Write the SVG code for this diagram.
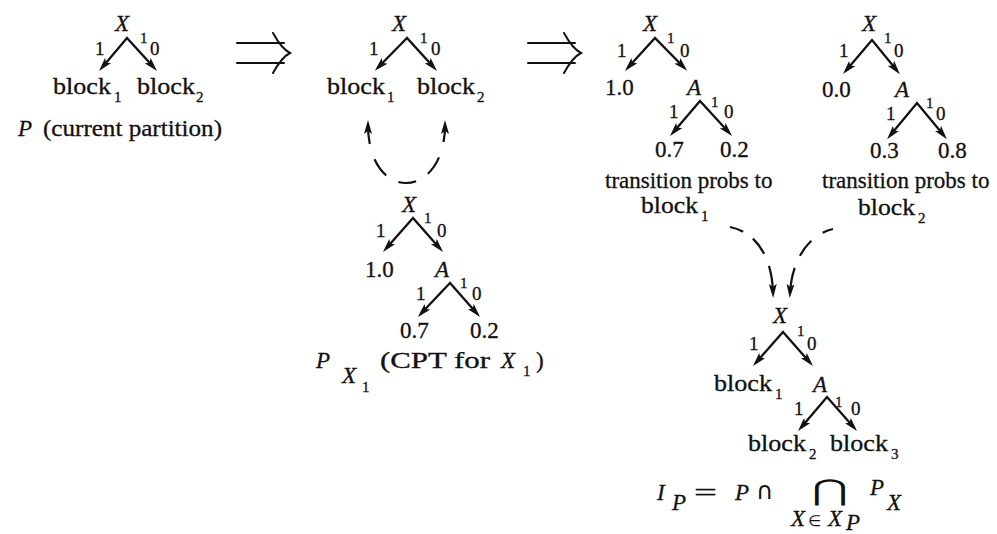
<svg xmlns="http://www.w3.org/2000/svg" width="997" height="534" viewBox="0 0 997 534">
  <style>
    text { font-family: "Liberation Serif", "Times New Roman", serif; fill: #111; stroke: #111; stroke-width: 0.3; }
    .t { font-size: 23px; }
    .it { font-size: 23px; font-style: italic; }
    .lab { font-size: 19px; }
    .sub { font-size: 15px; }
    .sym { font-family: "DejaVu Sans", sans-serif; stroke-width: 0; }
    .edge { fill: none; stroke: #111; stroke-width: 2.3; marker-start: url(#ah); marker-end: url(#ah); }
    .dash { fill: none; stroke: #111; stroke-width: 2.2; }
    .dbl { fill: none; stroke: #111; stroke-width: 2; stroke-linecap: round; }
  </style>
  <defs>
    <marker id="ah" viewBox="0 0 14 8" refX="9" refY="4" markerWidth="14" markerHeight="8" markerUnits="userSpaceOnUse" orient="auto-start-reverse">
      <path d="M0,0 L14,4 L0,8 L3,4 z" fill="#111"/>
    </marker>
  </defs>

  <!-- implication arrows -->
  <g id="implies-1" class="dbl">
    <path d="M237,43 H284 M237,63 H284"/>
    <path d="M273,33 C279,44 284,50 290,53 C284,56 279,62 273,73"/>
  </g>
  <g id="implies-2" class="dbl">
    <path d="M528,43 H575 M528,63 H575"/>
    <path d="M564,33 C570,44 575,50 581,53 C575,56 570,62 564,73"/>
  </g>

  <!-- partition P -->
  <g id="partition-P">
    <text class="it" x="115" y="31">X</text>
    <text class="sub" x="140" y="43">1</text>
    <text class="lab" x="95" y="55">1</text>
    <text class="lab" x="150" y="55">0</text>
    <text class="t" x="53" y="94" textLength="58" lengthAdjust="spacingAndGlyphs">block</text>
    <text class="sub" x="114" y="102">1</text>
    <text class="t" x="137" y="94" textLength="58" lengthAdjust="spacingAndGlyphs">block</text>
    <text class="sub" x="196" y="102">2</text>
    <text class="it" x="18" y="136">P</text>
    <text class="t" x="43" y="136" textLength="179" lengthAdjust="spacingAndGlyphs">(current partition)</text>
  </g>

  <!-- partition P repeated -->
  <g id="partition-P2">
    <text class="it" x="392" y="31">X</text>
    <text class="sub" x="420" y="43">1</text>
    <text class="lab" x="369" y="55">1</text>
    <text class="lab" x="431" y="55">0</text>
    <text class="t" x="327" y="94" textLength="58" lengthAdjust="spacingAndGlyphs">block</text>
    <text class="sub" x="387" y="102">1</text>
    <text class="t" x="417" y="94" textLength="58" lengthAdjust="spacingAndGlyphs">block</text>
    <text class="sub" x="477" y="102">2</text>
  </g>

  <!-- CPT for X1 -->
  <g id="cpt-X1">
    <text class="it" x="402" y="212">X</text>
    <text class="sub" x="424" y="223">1</text>
    <text class="lab" x="376" y="237">1</text>
    <text class="lab" x="437" y="237">0</text>
    <text class="t" x="365" y="277">1.0</text>
    <text class="it" x="435" y="277">A</text>
    <text class="sub" x="460" y="288">1</text>
    <text class="lab" x="416" y="300">1</text>
    <text class="lab" x="472" y="300">0</text>
    <text class="t" x="400" y="338">0.7</text>
    <text class="t" x="470" y="338">0.2</text>
    <text class="it" x="316" y="368">P</text>
    <text class="it" x="342" y="383" font-size="18">X</text>
    <text class="sub" x="362" y="392" font-size="12">1</text>
    <text class="t" x="380" y="368" textLength="110" lengthAdjust="spacingAndGlyphs">(CPT for</text>
    <text class="it" x="501" y="368">X</text>
    <text class="sub" x="523" y="376">1</text>
    <text class="t" x="536" y="368">)</text>
  </g>

  <!-- transition probabilities to block 1 -->
  <g id="trans-block1">
    <text class="it" x="643" y="31">X</text>
    <text class="sub" x="667" y="43">1</text>
    <text class="lab" x="617" y="57">1</text>
    <text class="lab" x="680" y="57">0</text>
    <text class="t" x="605" y="95">1.0</text>
    <text class="it" x="687" y="95">A</text>
    <text class="sub" x="711" y="107">1</text>
    <text class="lab" x="669" y="118">1</text>
    <text class="lab" x="724" y="118">0</text>
    <text class="t" x="655" y="157">0.7</text>
    <text class="t" x="720" y="157">0.2</text>
    <text class="t" x="605" y="188">transition probs to</text>
    <text class="t" x="641" y="213" textLength="57" lengthAdjust="spacingAndGlyphs">block</text>
    <text class="sub" x="701" y="221">1</text>
  </g>

  <!-- transition probabilities to block 2 -->
  <g id="trans-block2">
    <text class="it" x="862" y="31">X</text>
    <text class="sub" x="884" y="43">1</text>
    <text class="lab" x="839" y="57">1</text>
    <text class="lab" x="894" y="57">0</text>
    <text class="t" x="822" y="97">0.0</text>
    <text class="it" x="895" y="97">A</text>
    <text class="sub" x="926" y="108">1</text>
    <text class="lab" x="886" y="120">1</text>
    <text class="lab" x="936" y="120">0</text>
    <text class="t" x="870" y="158">0.3</text>
    <text class="t" x="938" y="158">0.8</text>
    <text class="t" x="822" y="188">transition probs to</text>
    <text class="t" x="858" y="215" textLength="57" lengthAdjust="spacingAndGlyphs">block</text>
    <text class="sub" x="918" y="223">2</text>
  </g>

  <!-- refined partition I_P -->
  <g id="partition-IP">
    <text class="it" x="773" y="323">X</text>
    <text class="sub" x="797" y="336">1</text>
    <text class="lab" x="749" y="350">1</text>
    <text class="lab" x="807" y="350">0</text>
    <text class="t" x="714" y="391" textLength="58" lengthAdjust="spacingAndGlyphs">block</text>
    <text class="sub" x="775" y="399">1</text>
    <text class="it" x="813" y="392">A</text>
    <text class="sub" x="835" y="407">1</text>
    <text class="lab" x="794" y="415">1</text>
    <text class="lab" x="851" y="415">0</text>
    <text class="t" x="748" y="451" textLength="58" lengthAdjust="spacingAndGlyphs">block</text>
    <text class="sub" x="809" y="459">2</text>
    <text class="t" x="830" y="451" textLength="58" lengthAdjust="spacingAndGlyphs">block</text>
    <text class="sub" x="891" y="459">3</text>
  </g>

  <!-- I_P formula -->
  <g id="formula">
    <text class="it" x="657" y="500">I</text>
    <text class="it" x="672" y="510" font-size="16">P</text>
    <text class="t" x="694" y="500" font-size="24" textLength="23" lengthAdjust="spacingAndGlyphs" stroke-width="0">=</text>
    <text class="it" x="735" y="500">P</text>
    <text class="sym" x="756" y="499" font-size="24">∩</text>
    <text class="sym" transform="translate(812,500) scale(1.5,1)" x="0" y="0" font-size="29">⋂</text>
    <text class="it" x="870" y="495">P</text>
    <text class="it" x="887" y="510" font-size="17">X</text>
    <text class="it" x="791" y="526" font-size="18">X</text>
    <text class="sym" x="808" y="526" font-size="15">∈</text>
    <text class="it" x="828" y="526" font-size="18">X</text>
    <text class="it" x="846" y="530" font-size="12">P</text>
  </g>

  <g id="connectors">
    <!-- tree branches -->
    <path class="edge" d="M102.3,67.3 L127,38 L153.7,67.3"/>
    <path class="edge" d="M378.3,67.3 L407,38 L433.7,67.3"/>
    <path class="edge" d="M386.3,248.3 L413,218 L439.7,248.3"/>
    <path class="edge" d="M421.3,313.3 L450,283 L476.7,313.3"/>
    <path class="edge" d="M628.3,67.3 L655,38 L683.7,67.3"/>
    <path class="edge" d="M673.3,132.3 L700,101 L728.7,132.3"/>
    <path class="edge" d="M846.3,70.3 L872,40 L896.7,70.3"/>
    <path class="edge" d="M890.3,135.3 L917,103 L943.7,135.3"/>
    <path class="edge" d="M756.3,362.3 L783,332 L809.7,362.3"/>
    <path class="edge" d="M801.3,427.3 L827,397 L853.7,427.3"/>
    <!-- dashed links -->
    <path class="dash" d="M368,125 C368,162 386,183 406,183 C426,183 445,162 445,125" stroke-dasharray="19 16 20 14 18 14 20 16 40" marker-start="url(#ah)" marker-end="url(#ah)"/>
    <path class="dash" d="M730,227 C755,232 772,255 773,293" stroke-dasharray="14 12 19 13 40" marker-end="url(#ah)"/>
    <path class="dash" d="M833,229 C810,234 792,258 790,293" stroke-dasharray="11 14 19 13 40" marker-end="url(#ah)"/>
  </g>
</svg>
